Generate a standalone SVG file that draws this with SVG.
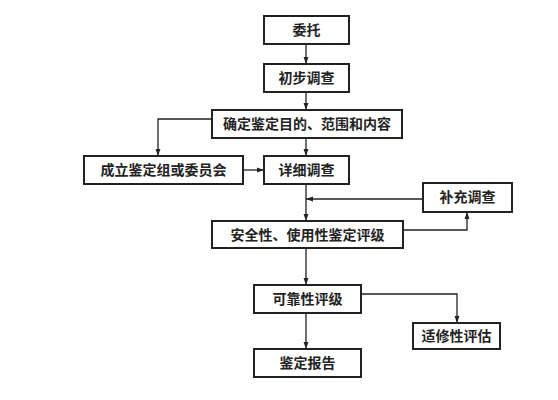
<svg xmlns="http://www.w3.org/2000/svg" width="558" height="400" viewBox="0 0 558 400">
<defs>
<marker id="ah" viewBox="0 0 10 10" refX="10" refY="5" markerWidth="7" markerHeight="7" markerUnits="userSpaceOnUse" orient="auto">
<path d="M0,1.5 L10,5 L0,8.5 z" fill="#222"/>
</marker>
<style>
.box{fill:#fff;stroke:#222;stroke-width:2}
.t{font-family:"Noto Sans CJK SC","Noto Sans",sans-serif;font-size:14px;font-weight:bold;fill:#222;text-anchor:middle}
.c{fill:none;stroke:#222;stroke-width:1.3;marker-end:url(#ah)}
</style>
</defs>
<rect width="558" height="400" fill="#fff"/>
<g id="connectors">
<path class="c" d="M306,44 V64"/>
<path class="c" d="M306,92 V110"/>
<path class="c" d="M306,138 V156"/>
<path class="c" d="M212,119 H158 V156"/>
<path class="c" d="M243,170 H264"/>
<path class="c" d="M306,184 V221"/>
<path class="c" d="M423,199 H306"/>
<path class="c" d="M403,230 H467 V212"/>
<path class="c" d="M306,248 V285"/>
<path class="c" d="M361,294 H457 V323"/>
<path class="c" d="M306,313 V349"/>
</g>
<g id="n1"><rect class="box" x="264" y="16" width="85" height="28"/><text class="t" x="306.5" y="35">委托</text></g>
<g id="n2"><rect class="box" x="264" y="64" width="85" height="28"/><text class="t" x="306.5" y="83">初步调查</text></g>
<g id="n3"><rect class="box" x="212" y="110" width="190" height="28"/><text class="t" x="307" y="129">确定鉴定目的、范围和内容</text></g>
<g id="n4"><rect class="box" x="84" y="156" width="159" height="28"/><text class="t" x="163.5" y="175">成立鉴定组或委员会</text></g>
<g id="n5"><rect class="box" x="264" y="156" width="85" height="28"/><text class="t" x="306.5" y="175">详细调查</text></g>
<g id="n6"><rect class="box" x="423" y="183" width="89" height="29"/><text class="t" x="467.5" y="202">补充调查</text></g>
<g id="n7"><rect class="box" x="212" y="221" width="191" height="27"/><text class="t" x="307.5" y="239.5">安全性、使用性鉴定评级</text></g>
<g id="n8"><rect class="box" x="254" y="285" width="107" height="28"/><text class="t" x="307.5" y="304">可靠性评级</text></g>
<g id="n9"><rect class="box" x="413" y="323" width="87" height="26"/><text class="t" x="456.5" y="341">适修性评估</text></g>
<g id="n10"><rect class="box" x="254" y="349" width="107" height="28"/><text class="t" x="307.5" y="368">鉴定报告</text></g>
</svg>
